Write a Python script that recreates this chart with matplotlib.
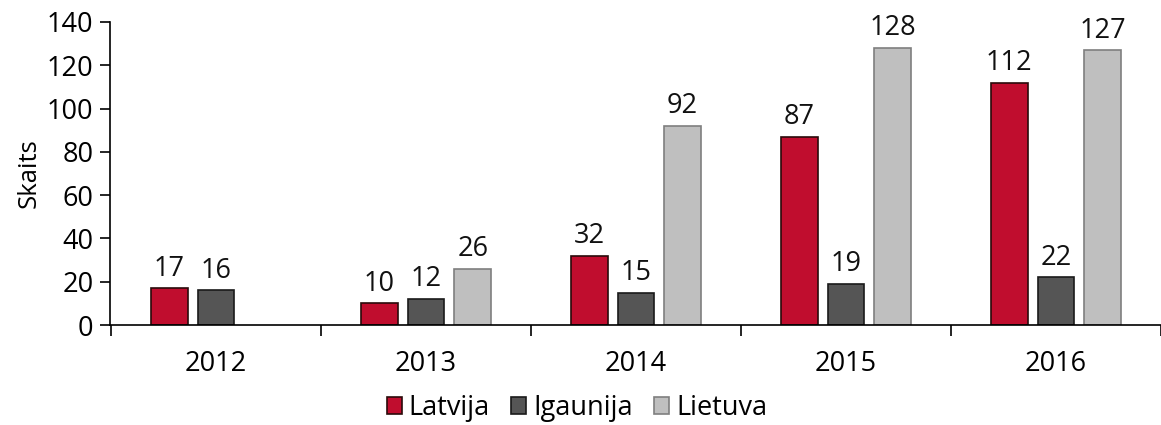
import matplotlib
matplotlib.use("Agg")
import matplotlib.pyplot as plt
import numpy as np

years = ["2012", "2013", "2014", "2015", "2016"]
series_names = ["Latvija", "Igaunija", "Lietuva"]
latvija = [17, 10, 32, 87, 112]
igaunija = [16, 12, 15, 19, 22]
lietuva = [np.nan, 26, 92, 128, 127]
yticks = [0, 20, 40, 60, 80, 100, 120, 140]

colors = ["#C00D2E", "#555555", "#BFBFBF"]
edges = ["#2a0a0a", "#1a1a1a", "#7f7f7f"]

plt.rcParams["font.family"] = ["Open Sans", "DejaVu Sans"]
FS = 19.5
fig = plt.figure(figsize=(11.61, 4.25), dpi=100)
ax = fig.add_axes([110/1161, 100/425, 1 - 110/1161, (325-22)/425])

x = np.arange(len(years))
width = 0.175
step = 0.222
for i, (vals, name) in enumerate(zip([latvija, igaunija, lietuva], series_names)):
    pos = x + (i - 1) * step
    ax.bar(pos, vals, width, color=colors[i], edgecolor=edges[i], linewidth=1.2, label=name)
    for p, v in zip(pos, vals):
        if not np.isnan(v):
            ax.annotate(f"{int(v)}", (p, v), xytext=(0, 4), textcoords="offset points",
                        ha="center", va="bottom", fontsize=FS, color="#111111")

ax.set_xlim(-0.505, -0.505 + 1051/212.3)
ax.set_ylim(0, 140)
ax.set_yticks(yticks)
ax.tick_params(axis="y", labelsize=FS, length=7, width=1.2, direction="out", pad=5)
ax.set_xticks(np.arange(-0.5, 5, 1.0))
ax.set_xticklabels([])
ax.tick_params(axis="x", which="major", length=8, width=1.2, direction="out")
ax.set_xticks(x, minor=True)
ax.set_xticklabels(years, minor=True)
ax.tick_params(axis="x", which="minor", length=0, labelsize=FS, pad=18)
for s in ["top", "right"]:
    ax.spines[s].set_visible(False)
ax.spines["left"].set_linewidth(1.2)
ax.spines["bottom"].set_linewidth(1.2)
ax.set_ylabel("Skaits", fontsize=FS - 1, labelpad=4)

fig.legend(loc="center", bbox_to_anchor=(577/1161, 1 - 408/425), ncol=3, frameon=False,
           fontsize=FS, handlelength=0.55, handleheight=0.55, handletextpad=0.25,
           columnspacing=0.8, borderaxespad=0, borderpad=0)

fig.savefig("out.png", dpi=100)
